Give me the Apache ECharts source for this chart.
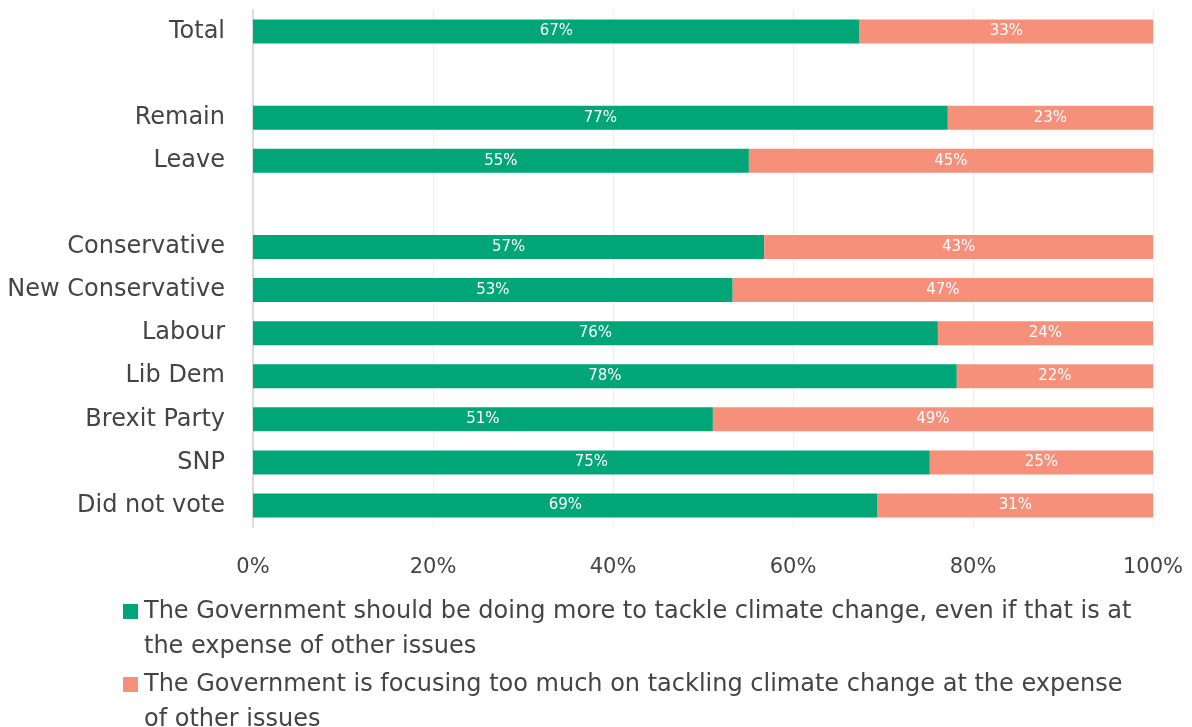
<!DOCTYPE html>
<html>
<head>
<meta charset="utf-8">
<script src="https://cdn.jsdelivr.net/npm/echarts@6/dist/echarts.min.js"></script>
<style>html,body{margin:0;padding:0;background:#fff}#c{width:1192px;height:727px}</style>
</head>
<body>
<div id="c"></div>
<script>
const categories = ['Total', ' ', 'Remain', 'Leave', '  ', 'Conservative', 'New Conservative', 'Labour', 'Lib Dem', 'Brexit Party', 'SNP', 'Did not vote'];
const moreValues = [67.4, null, 77.2, 55.1, null, 56.8, 53.3, 76.1, 78.2, 51.1, 75.2, 69.4];
const tooMuchValues = [32.6, null, 22.8, 44.9, null, 43.2, 46.7, 23.9, 21.8, 48.9, 24.8, 30.6];
const seriesNames = [
  'The Government should be doing more to tackle climate change, even if that is at the expense of other issues',
  'The Government is focusing too much on tackling climate change at the expense of other issues'
];
const legendLines = [
  ['The Government should be doing more to tackle climate change, even if that is at', 'the expense of other issues'],
  ['The Government is focusing too much on tackling climate change at the expense', 'of other issues']
];
const xTicks = [0, 20, 40, 60, 80, 100];

const FONT = 'DejaVu Sans';
const chart = echarts.init(document.getElementById('c'));
const lbl = {
  show: true, position: 'inside', color: '#fff', fontSize: 15, fontFamily: FONT,
  formatter: p => (p.value == null ? '' : Math.round(p.value) + '%')
};
function legendCfg(i, top) {
  return {
    data: [seriesNames[i]], orient: 'vertical', left: 123, top: top, padding: 0,
    itemWidth: 15, itemHeight: 15, itemGap: 0, icon: 'rect',
    formatter: () => '\n' + legendLines[i].join('\n'),
    textStyle: { fontSize: 24, fontFamily: FONT, color: '#444', lineHeight: 35, padding: [0, 0, 0, 1] },
    selectedMode: false
  };
}
chart.setOption({
  animation: false,
  grid: { left: 253, right: 39, top: 10, bottom: 200, containLabel: false },
  xAxis: {
    type: 'value', min: 0, max: 100, interval: 20,
    axisLabel: { formatter: v => v + '%', fontSize: 21, fontFamily: FONT, color: '#444', margin: 30 },
    splitLine: { show: true, lineStyle: { color: '#efefef', width: 1 } },
    axisLine: { show: false }, axisTick: { show: false }
  },
  yAxis: {
    type: 'category', data: categories, inverse: true,
    axisLabel: { fontSize: 24, fontFamily: FONT, color: '#444', margin: 28 },
    axisLine: { show: true, lineStyle: { color: '#dcdcdc', width: 2 } },
    axisTick: { show: false }, splitLine: { show: false }
  },
  legend: [legendCfg(0, 559), legendCfg(1, 632)],
  series: [
    { name: seriesNames[0], type: 'bar', stack: 's', data: moreValues, barWidth: 24,
      itemStyle: { color: '#00A677' }, label: lbl },
    { name: seriesNames[1], type: 'bar', stack: 's', data: tooMuchValues, barWidth: 24,
      itemStyle: { color: '#F6907A' }, label: lbl }
  ]
});
</script>
</body>
</html>
